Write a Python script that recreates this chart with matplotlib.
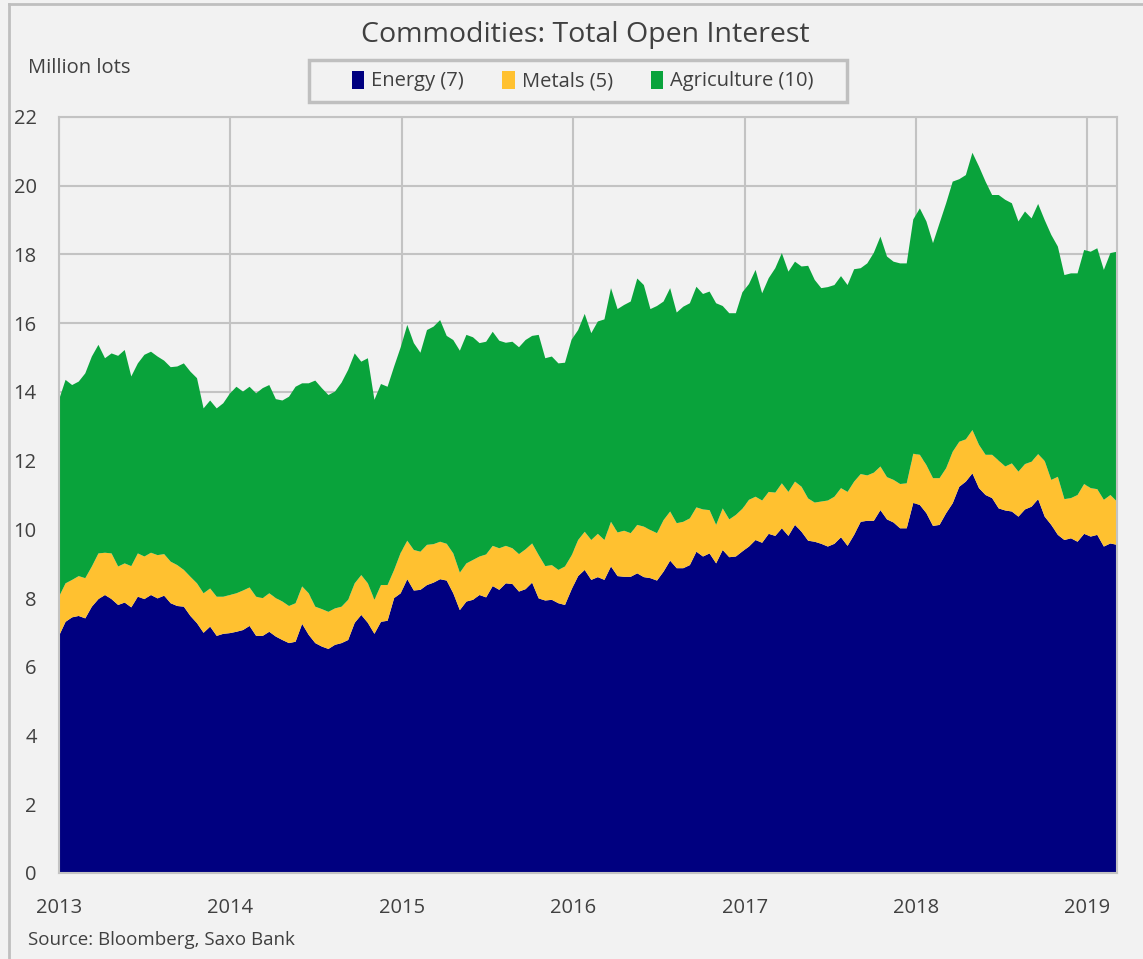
import matplotlib
matplotlib.use("Agg")
import matplotlib.pyplot as plt
import matplotlib.dates as mdates
from matplotlib.patches import Patch, Rectangle
from matplotlib.lines import Line2D
import pandas as pd

plt.rcParams['font.family'] = ['Open Sans', 'DejaVu Sans']

# Weekly data sampled every two weeks, million lots
dates = pd.date_range('2013-01-01', periods=162, freq='14D')

energy = [
    6.90, 7.31, 7.44, 7.48, 7.41, 7.75, 7.97, 8.09, 7.97, 7.80,
    7.87, 7.73, 8.04, 7.97, 8.09, 7.99, 8.07, 7.85, 7.77, 7.75,
    7.48, 7.27, 6.99, 7.17, 6.90, 6.96, 6.98, 7.02, 7.07, 7.19,
    6.90, 6.90, 7.02, 6.88, 6.78, 6.69, 6.73, 7.25, 6.93, 6.69,
    6.59, 6.52, 6.64, 6.69, 6.78, 7.28, 7.51, 7.28, 6.96, 7.31,
    7.34, 8.00, 8.14, 8.55, 8.22, 8.24, 8.38, 8.45, 8.55, 8.51,
    8.14, 7.65, 7.90, 7.95, 8.09, 8.02, 8.35, 8.24, 8.43, 8.41,
    8.19, 8.26, 8.45, 7.99, 7.93, 7.95, 7.85, 7.80, 8.25, 8.64,
    8.82, 8.53, 8.61, 8.53, 8.92, 8.64, 8.62, 8.62, 8.72, 8.61,
    8.58, 8.51, 8.77, 9.09, 8.87, 8.87, 8.96, 9.35, 9.21, 9.30,
    9.01, 9.40, 9.19, 9.21, 9.36, 9.50, 9.69, 9.61, 9.87, 9.81,
    10.03, 9.81, 10.13, 9.93, 9.67, 9.64, 9.58, 9.50, 9.58, 9.77,
    9.52, 9.84, 10.22, 10.25, 10.25, 10.56, 10.29, 10.20, 10.03, 10.03,
    10.77, 10.71, 10.47, 10.10, 10.13, 10.47, 10.76, 11.24, 11.39, 11.63,
    11.20, 11.00, 10.91, 10.61, 10.55, 10.52, 10.37, 10.58, 10.66, 10.88,
    10.37, 10.13, 9.84, 9.69, 9.74, 9.64, 9.87, 9.79, 9.84, 9.50,
    9.59, 9.55,
]

metals = [
    1.14, 1.12, 1.09, 1.16, 1.17, 1.17, 1.33, 1.23, 1.33, 1.12,
    1.14, 1.20, 1.26, 1.24, 1.23, 1.26, 1.21, 1.21, 1.19, 1.07,
    1.14, 1.16, 1.15, 1.11, 1.14, 1.08, 1.11, 1.12, 1.15, 1.12,
    1.14, 1.10, 1.12, 1.12, 1.12, 1.08, 1.12, 1.09, 1.21, 1.06,
    1.09, 1.08, 1.06, 1.06, 1.17, 1.15, 1.16, 1.15, 0.99, 1.07,
    1.04, 0.82, 1.18, 1.12, 1.18, 1.11, 1.17, 1.12, 1.09, 1.07,
    1.16, 1.09, 1.11, 1.16, 1.12, 1.25, 1.17, 1.21, 1.09, 1.04,
    1.09, 1.16, 1.14, 1.26, 1.00, 1.01, 0.97, 1.12, 0.99, 1.05,
    1.11, 1.16, 1.26, 1.16, 1.30, 1.27, 1.34, 1.27, 1.41, 1.47,
    1.40, 1.38, 1.50, 1.43, 1.31, 1.35, 1.36, 1.29, 1.37, 1.26,
    1.12, 1.21, 1.10, 1.21, 1.24, 1.36, 1.26, 1.23, 1.22, 1.26,
    1.31, 1.28, 1.26, 1.31, 1.23, 1.14, 1.23, 1.34, 1.37, 1.43,
    1.57, 1.55, 1.39, 1.32, 1.40, 1.27, 1.23, 1.24, 1.29, 1.31,
    1.43, 1.46, 1.40, 1.39, 1.36, 1.31, 1.50, 1.31, 1.23, 1.26,
    1.26, 1.17, 1.26, 1.39, 1.28, 1.40, 1.31, 1.32, 1.31, 1.31,
    1.62, 1.31, 1.69, 1.19, 1.17, 1.36, 1.45, 1.41, 1.33, 1.36,
    1.41, 1.26,
]

agriculture = [
    5.73, 5.92, 5.67, 5.66, 5.96, 6.11, 6.07, 5.66, 5.82, 6.13,
    6.21, 5.52, 5.53, 5.87, 5.85, 5.78, 5.63, 5.66, 5.78, 6.01,
    5.97, 5.97, 5.38, 5.47, 5.48, 5.63, 5.86, 6.01, 5.79, 5.84,
    5.92, 6.11, 6.06, 5.79, 5.85, 6.09, 6.30, 5.91, 6.11, 6.58,
    6.43, 6.31, 6.31, 6.52, 6.69, 6.69, 6.21, 6.55, 5.82, 5.85,
    5.77, 5.92, 5.98, 6.28, 6.02, 5.79, 6.25, 6.33, 6.45, 6.05,
    6.21, 6.46, 6.65, 6.48, 6.21, 6.19, 6.23, 6.04, 5.91, 6.01,
    6.02, 6.09, 6.04, 6.41, 6.05, 6.07, 6.01, 5.93, 6.28, 6.11,
    6.34, 6.02, 6.18, 6.42, 6.80, 6.50, 6.57, 6.74, 7.17, 7.03,
    6.43, 6.61, 6.36, 6.50, 6.13, 6.26, 6.26, 6.42, 6.27, 6.36,
    6.45, 5.89, 6.00, 5.87, 6.30, 6.28, 6.60, 6.03, 6.22, 6.53,
    6.70, 6.41, 6.40, 6.41, 6.77, 6.48, 6.21, 6.21, 6.16, 6.17,
    6.02, 6.18, 5.99, 6.17, 6.40, 6.69, 6.42, 6.35, 6.42, 6.40,
    6.82, 7.17, 7.09, 6.84, 7.42, 7.71, 7.86, 7.64, 7.69, 8.07,
    8.10, 7.95, 7.56, 7.73, 7.76, 7.57, 7.28, 7.35, 7.08, 7.28,
    7.01, 7.13, 6.70, 6.52, 6.54, 6.45, 6.81, 6.88, 7.01, 6.69,
    7.04, 7.27,
]

labels = ['Energy (7)', 'Metals (5)', 'Agriculture (10)']
colors = ['#000080', '#FFC130', '#09A33B']
years = [2013, 2014, 2015, 2016, 2017, 2018, 2019]

bg = '#F2F2F2'
grid_c = '#C3C3C3'
txt_c = '#404040'

fig = plt.figure(figsize=(11.43, 9.59), dpi=100, facecolor=bg)
ax = fig.add_axes([59 / 1143, 1 - 873 / 959, (1117 - 59) / 1143, (873 - 117) / 959])
ax.set_facecolor(bg)

ax.stackplot(dates, energy, metals, agriculture, colors=colors, linewidth=0, zorder=2)

ax.set_ylim(0, 22)
ax.set_yticks(range(0, 23, 2))
ax.set_xlim(pd.Timestamp('2013-01-01'), dates[-1])
ax.set_xticks([pd.Timestamp(f'{y}-01-01') for y in years])
ax.xaxis.set_major_formatter(mdates.DateFormatter('%Y'))

ax.grid(True, color=grid_c, linewidth=1.5, zorder=0)
ax.set_axisbelow(True)
for s in ax.spines.values():
    s.set_color(grid_c)
    s.set_linewidth(1.5)
ax.tick_params(length=0, labelsize=14.5, labelcolor=txt_c)
ax.tick_params(axis='y', pad=16)
ax.tick_params(axis='x', pad=18)

fig.text(0.512, 1 - 35 / 959, 'Commodities: Total Open Interest', ha='center', va='center',
         fontsize=20.5, color=txt_c)
fig.text(28 / 1143, 1 - 68 / 959, 'Million lots', ha='left', va='center', fontsize=14.5, color=txt_c)
fig.text(28 / 1143, 1 - 940 / 959, 'Source: Bloomberg, Saxo Bank', ha='left', va='center',
         fontsize=13.5, color=txt_c)

# legend box drawn separately so the entries can sit inside it like the original
fig.add_artist(Rectangle((309 / 1143, 1 - 102 / 959), 538 / 1143, 42 / 959,
                         transform=fig.transFigure, facecolor=bg, edgecolor='#BFBFBF', linewidth=2.5))
handles = [Patch(facecolor=c, edgecolor='none') for c in colors]
leg = fig.legend(handles, labels, loc='center', bbox_to_anchor=(583 / 1143, 1 - 81 / 959), ncol=3,
                 fontsize=14.5, frameon=False, handlelength=0.6, handleheight=1.0,
                 handletextpad=0.35, columnspacing=1.9, borderpad=0.3, labelcolor=txt_c)

# outer border of the chart
fig.add_artist(Line2D([9 / 1143, 9 / 1143], [0, 1 - 4 / 959], transform=fig.transFigure,
                      color='#BFBFBF', linewidth=2))
fig.add_artist(Line2D([9 / 1143, 1], [1 - 4 / 959, 1 - 4 / 959], transform=fig.transFigure,
                      color='#BFBFBF', linewidth=2))

fig.savefig('out.png', dpi=100, facecolor=bg)
